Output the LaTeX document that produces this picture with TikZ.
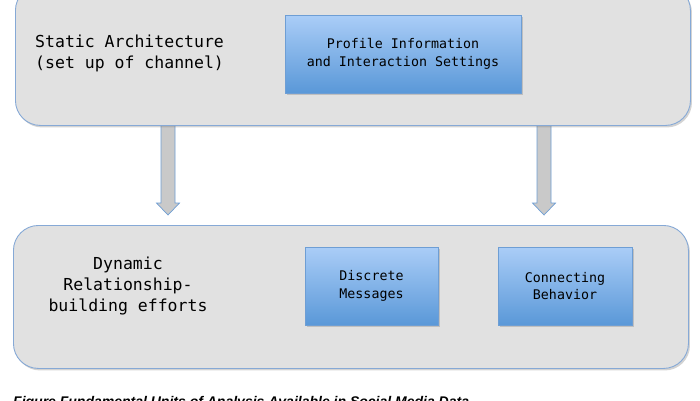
\documentclass[tikz,border=0pt]{standalone}
\usepackage{fontspec}
\usetikzlibrary{shadows,calc}
\newfontfamily\monofnt{DejaVu Sans Mono}
\newfontfamily\capfnt{Liberation Sans}
\definecolor{panelfill}{HTML}{E1E1E1}
\definecolor{panelline}{HTML}{86A9D6}
\definecolor{bluetop}{HTML}{AACDF7}
\definecolor{bluebot}{HTML}{5A98D8}
\definecolor{blueline}{HTML}{6E9ED4}
\definecolor{arrowfill}{HTML}{C9C9C9}
\tikzset{
  panel/.style={draw=panelline, line width=0.9pt, fill=panelfill, rounded corners=25pt,
    drop shadow={opacity=0.35, shadow xshift=1.5pt, shadow yshift=-2pt}},
  bluebox/.style={draw=blueline, line width=0.6pt, top color=bluetop, bottom color=bluebot,
    align=center, inner sep=0pt, font=\monofnt\fontsize{13.3}{17.5}\selectfont,
    drop shadow={opacity=0.35, shadow xshift=1.5pt, shadow yshift=-1.5pt}},
  bigtext/.style={font=\monofnt\fontsize{16.5}{21}\selectfont, inner sep=0pt},
  blockarrow/.style={draw=blueline, line width=0.7pt, fill=arrowfill, line join=miter}
}
\begin{document}
\begin{tikzpicture}[x=1pt,y=-1pt]
\useasboundingbox (0,0) rectangle (700,400);
% arrows
\coordinate (a1s) at (168,120);
\coordinate (a1e) at (168,215);
\coordinate (a2s) at (544,120);
\coordinate (a2e) at (544,215);
\foreach \s/\e in {a1s/a1e,a2s/a2e}{
  \draw[blockarrow] ($(\s)+(-7,0)$) -- ($(\e)+(-7,-12)$) -- ($(\e)+(-11.5,-12)$) -- (\e)
    -- ($(\e)+(11.5,-12)$) -- ($(\e)+(7,-12)$) -- ($(\s)+(7,0)$) -- cycle;
}
% panels
\node[panel, minimum width=675pt, minimum height=140pt, anchor=north west] (static) at (15,-15) {};
\node[panel, minimum width=675pt, minimum height=143pt, anchor=north west] (dynamic) at (13,225) {};
% text
\node[bigtext, align=left, anchor=west] (statictxt) at (35,53) {Static Architecture\\(set up of channel)};
\node[bigtext, align=center] (dyntxt) at (128,286) {Dynamic\\Relationship-\\building efforts};
% blue boxes
\node[bluebox, minimum width=236pt, minimum height=78pt] (profile) at (403,54) {Profile Information\\and Interaction Settings};
\node[bluebox, minimum width=133pt, minimum height=78pt] (discrete) at (371.5,286) {Discrete\\Messages};
\node[bluebox, minimum width=134pt, minimum height=78pt] (connect) at (565,286) {Connecting\\Behavior};
% caption (cut off at the bottom edge, as in the reference)
\node[anchor=base west, inner sep=0pt, font=\capfnt\bfseries\itshape\fontsize{14}{16}\selectfont] (caption) at (13,406.5) {Figure Fundamental Units of Analysis Available in Social Media Data};
\end{tikzpicture}
\end{document}
